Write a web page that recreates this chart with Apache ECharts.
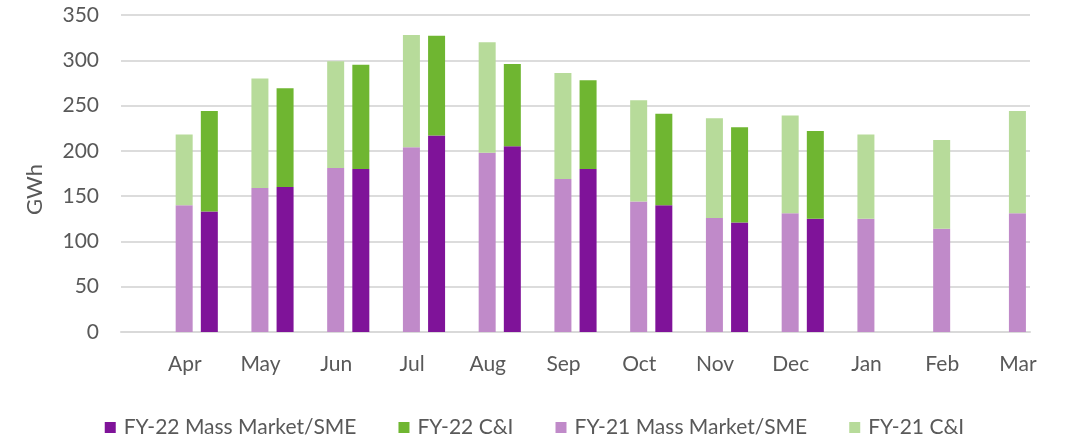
<!DOCTYPE html>
<html>
<head>
<meta charset="utf-8">
<script src="https://cdn.jsdelivr.net/npm/echarts@6/dist/echarts.min.js"></script>
<style>
  html, body { margin: 0; padding: 0; background: #fff; }
  #chart { width: 1069px; height: 440px; }
</style>
</head>
<body>
<div id="chart"></div>
<script>
var months = ['Apr', 'May', 'Jun', 'Jul', 'Aug', 'Sep', 'Oct', 'Nov', 'Dec', 'Jan', 'Feb', 'Mar'];

var fy21Mass = [140, 159, 181, 204, 198, 169, 144, 126, 131, 125, 114, 131];
var fy21CI   = [78, 121, 118, 124, 122, 117, 112, 110, 108, 93, 98, 113];
var fy22Mass = [133, 160, 180, 217, 205, 180, 140, 121, 125, null, null, null];
var fy22CI   = [111, 109, 115, 110, 91, 98, 101, 105, 97, null, null, null];

var yTicks = { min: 0, max: 350, interval: 50 };

var cMass22 = '#7f1399', cCI22 = '#6fb631', cMass21 = '#c08ac9', cCI21 = '#b7db9a';
var txt = '#595959';
var font = 'Lato';

var chart = echarts.init(document.getElementById('chart'));

// leading blank slot so each pair sits on a point between bands
function pad(arr) { return [null].concat(arr); }

function bar(name, stack, data, color) {
  return {
    name: name,
    type: 'bar',
    stack: stack,
    barWidth: 17,
    barGap: '48%',
    itemStyle: { color: color },
    data: pad(data)
  };
}

chart.setOption({
  animation: false,
  grid: { left: 121, right: 39, top: 15, bottom: 108 },
  legend: {
    top: 412,
    left: 'center',
    icon: 'rect',
    itemWidth: 11,
    itemHeight: 11,
    itemGap: 42,
    data: ['FY-22 Mass Market/SME', 'FY-22 C&I', 'FY-21 Mass Market/SME', 'FY-21 C&I'],
    textStyle: { fontFamily: font, fontSize: 21, color: txt, padding: [0, 0, 0, 3] }
  },
  xAxis: {
    type: 'category',
    boundaryGap: false,
    data: [''].concat(months),
    axisLine: { lineStyle: { color: '#d9d9d9', width: 2 } },
    axisTick: { show: false },
    axisLabel: {
      interval: 0,
      fontFamily: font,
      fontSize: 21,
      color: txt,
      margin: 22,
      padding: [0, 24, 0, 0]
    },
    splitLine: { show: false }
  },
  yAxis: {
    type: 'value',
    min: yTicks.min,
    max: yTicks.max,
    interval: yTicks.interval,
    name: 'GWh',
    nameLocation: 'middle',
    nameGap: 75,
    nameTextStyle: { fontFamily: font, fontSize: 22, color: txt, padding: [0, 32, 0, 0] },
    axisLine: { show: false },
    axisTick: { show: false },
    axisLabel: { fontFamily: font, fontSize: 21, color: txt, margin: 22 },
    splitLine: { lineStyle: { color: '#dcdcdc', width: 2 } }
  },
  series: [
    bar('FY-21 Mass Market/SME', 'fy21', fy21Mass, cMass21),
    bar('FY-21 C&I', 'fy21', fy21CI, cCI21),
    bar('FY-22 Mass Market/SME', 'fy22', fy22Mass, cMass22),
    bar('FY-22 C&I', 'fy22', fy22CI, cCI22)
  ]
});
</script>
</body>
</html>
